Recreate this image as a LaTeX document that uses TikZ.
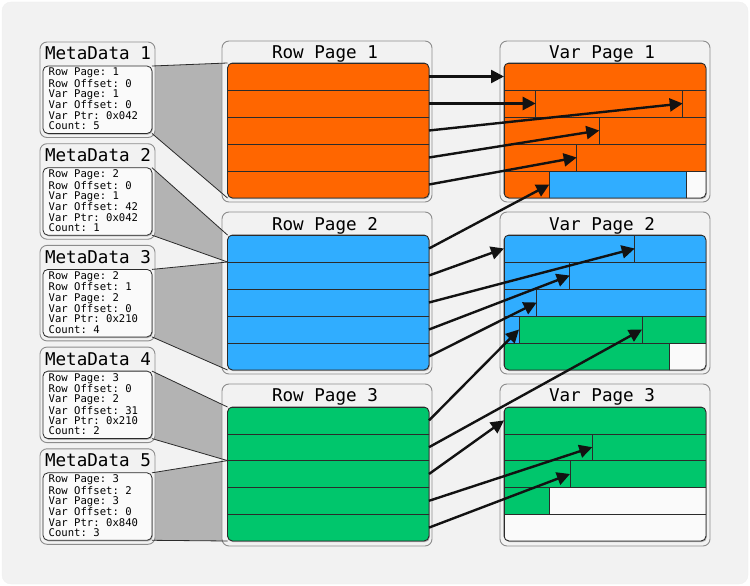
\documentclass[tikz,border=0pt]{standalone}
\usepackage{fontspec}
\setmonofont{DejaVu Sans Mono}
\usetikzlibrary{arrows.meta}
\pgfdeclarelayer{back}
\pgfdeclarelayer{fan}
\pgfsetlayers{back,fan,main}
\definecolor{cOrange}{HTML}{FF6600}
\definecolor{cBlue}{HTML}{30ADFF}
\definecolor{cGreen}{HTML}{00C66C}
\definecolor{cWhite}{HTML}{FAFAFA}
\definecolor{cBg}{HTML}{F2F2F2}
\definecolor{cFan}{HTML}{B3B3B3}
\definecolor{cEdge}{HTML}{2B2B2B}
\tikzset{
  outerbox/.style={draw=black!45, fill=cBg, line width=0.9pt, rounded corners=7pt},
  panelframe/.style={draw=cEdge, line width=0.9pt, rounded corners=5pt},
  panelshadow/.style={fill=black!30, rounded corners=5pt},
  vcell/.style={draw=cEdge, line width=0.6pt, inner sep=0pt, outer sep=0pt, anchor=north west},
  pagetitle/.style={font=\ttfamily\fontsize{17.6}{20}\selectfont, anchor=base, inner sep=0pt},
  mdtext/.style={font=\ttfamily\fontsize{10.6}{10.33}\selectfont, align=left, anchor=north west, inner sep=0pt},
  mdpanel/.style={draw=cEdge, fill=cWhite, line width=0.8pt, rounded corners=5pt, minimum width=109pt, minimum height=67.5pt, anchor=north west, inner sep=0pt, outer sep=0pt},
  fanedge/.style={draw=cEdge, line width=0.8pt},
  ptr/.style={draw=black!93, line width=2.4pt, -{Triangle[length=13pt,width=13pt]}},
}
\newcommand\VCell[6]{\node[vcell, fill=#6, minimum width={(#3-#2)*1pt}, minimum height=#5pt] (#1) at (#2,#4) {};}
\newcommand\MDbox[3]{%
\begin{scope}[shift={(0,#2)}]
\draw[outerbox] (40,0) rectangle (155,95.5);
\node[pagetitle] (mdt#1) at (98,18) {MetaData #1};
\fill[panelshadow] (43.8,25) rectangle (152.8,92.6);
\node[mdpanel] (md#1) at (43,24) {};
\node[mdtext] (mdx#1) at (48.5,26) {#3};
\end{scope}}
\begin{document}
\begin{tikzpicture}[x=1pt,y=-1pt]
\useasboundingbox (0,0) rectangle (750,586);
\begin{pgfonlayer}{back}
\fill[cBg, draw=black!6, rounded corners=9pt] (2,2) rectangle (748,584);
\end{pgfonlayer}

% ---------- MetaData boxes ----------
\MDbox{1}{42}{Row Page: 1\\Row Offset: 0\\Var Page: 1\\Var Offset: 0\\Var Ptr: 0x042\\Count: 5}
\MDbox{2}{143.7}{Row Page: 2\\Row Offset: 0\\Var Page: 1\\Var Offset: 42\\Var Ptr: 0x042\\Count: 1}
\MDbox{3}{245.4}{Row Page: 2\\Row Offset: 1\\Var Page: 2\\Var Offset: 0\\Var Ptr: 0x210\\Count: 4}
\MDbox{4}{347.1}{Row Page: 3\\Row Offset: 0\\Var Page: 2\\Var Offset: 31\\Var Ptr: 0x210\\Count: 2}
\MDbox{5}{448.8}{Row Page: 3\\Row Offset: 2\\Var Page: 3\\Var Offset: 0\\Var Ptr: 0x840\\Count: 3}

% ---------- Row pages ----------
\draw[outerbox] (222,41) rectangle (432,202);
\node[pagetitle] (rpt1) at (325,58.3) {Row Page 1};
\fill[panelshadow] (228.3,64) rectangle (429.8,199.2);
\begin{scope}
\clip[rounded corners=5pt] (227.5,63) rectangle (429,198);
\foreach \i in {0,...,4} {\node[vcell, fill=cOrange, minimum width=201.5pt, minimum height=27pt] (R1-\i) at (227.5,{63+27*\i}) {};}
\end{scope}
\draw[panelframe] (227.5,63) rectangle (429,198);

\draw[outerbox] (222,212) rectangle (432,374);
\node[pagetitle] (rpt2) at (325,230) {Row Page 2};
\fill[panelshadow] (228.3,236) rectangle (429.8,371.2);
\begin{scope}
\clip[rounded corners=5pt] (227.5,235) rectangle (429,370);
\foreach \i in {0,...,4} {\node[vcell, fill=cBlue, minimum width=201.5pt, minimum height=27pt] (R2-\i) at (227.5,{235+27*\i}) {};}
\end{scope}
\draw[panelframe] (227.5,235) rectangle (429,370);

\draw[outerbox] (222,384) rectangle (432,546);
\node[pagetitle] (rpt3) at (325,401.7) {Row Page 3};
\fill[panelshadow] (228.3,408) rectangle (429.8,542.2);
\begin{scope}
\clip[rounded corners=5pt] (227.5,407) rectangle (429,541);
\foreach \i in {0,...,4} {\node[vcell, fill=cGreen, minimum width=201.5pt, minimum height=26.8pt] (R3-\i) at (227.5,{407+26.8*\i}) {};}
\end{scope}
\draw[panelframe] (227.5,407) rectangle (429,541);

% ---------- Var pages ----------
\draw[outerbox] (500,41) rectangle (710,202);
\node[pagetitle] (vpt1) at (602,58.3) {Var Page 1};
\fill[panelshadow] (504.8,64) rectangle (706.8,199.2);
\begin{scope}
\clip[rounded corners=5pt] (504,63) rectangle (706,198);
\VCell{V1-0a}{504}{706}{63}{27}{cOrange}
\VCell{V1-1a}{504}{535.7}{90}{27}{cOrange}
\VCell{V1-1b}{535.7}{682.7}{90}{27}{cOrange}
\VCell{V1-1c}{682.7}{706}{90}{27}{cOrange}
\VCell{V1-2a}{504}{599.3}{117}{27}{cOrange}
\VCell{V1-2b}{599.3}{706}{117}{27}{cOrange}
\VCell{V1-3a}{504}{576.7}{144}{27}{cOrange}
\VCell{V1-3b}{576.7}{706}{144}{27}{cOrange}
\VCell{V1-4a}{504}{549.3}{171}{27}{cOrange}
\VCell{V1-4b}{549.3}{686}{171}{27}{cBlue}
\VCell{V1-4c}{686}{706}{171}{27}{cWhite}
\end{scope}
\draw[panelframe] (504,63) rectangle (706,198);

\draw[outerbox] (500,212) rectangle (710,374);
\node[pagetitle] (vpt2) at (602,230.7) {Var Page 2};
\fill[panelshadow] (504.8,236) rectangle (706.8,371.2);
\begin{scope}
\clip[rounded corners=5pt] (504,235) rectangle (706,370);
\VCell{V2-0a}{504}{634.7}{235}{27}{cBlue}
\VCell{V2-0b}{634.7}{706}{235}{27}{cBlue}
\VCell{V2-1a}{504}{569.7}{262}{27}{cBlue}
\VCell{V2-1b}{569.7}{706}{262}{27}{cBlue}
\VCell{V2-2a}{504}{536.7}{289}{27}{cBlue}
\VCell{V2-2b}{536.7}{706}{289}{27}{cBlue}
\VCell{V2-3a}{504}{519}{316}{27}{cBlue}
\VCell{V2-3b}{519}{642}{316}{27}{cGreen}
\VCell{V2-3c}{642}{706}{316}{27}{cGreen}
\VCell{V2-4a}{504}{669.7}{343}{27}{cGreen}
\VCell{V2-4b}{669.7}{706}{343}{27}{cWhite}
\end{scope}
\draw[panelframe] (504,235) rectangle (706,370);

\draw[outerbox] (500,384) rectangle (710,546);
\node[pagetitle] (vpt3) at (602,401.7) {Var Page 3};
\fill[panelshadow] (504.8,408) rectangle (706.8,542.2);
\begin{scope}
\clip[rounded corners=5pt] (504,407) rectangle (706,541);
\VCell{V3-0a}{504}{706}{407}{26.8}{cGreen}
\VCell{V3-1a}{504}{592.3}{433.8}{26.8}{cGreen}
\VCell{V3-1b}{592.3}{706}{433.8}{26.8}{cGreen}
\VCell{V3-2a}{504}{570}{460.6}{26.8}{cGreen}
\VCell{V3-2b}{570}{706}{460.6}{26.8}{cGreen}
\VCell{V3-3a}{504}{549}{487.4}{26.8}{cGreen}
\VCell{V3-3b}{549}{706}{487.4}{26.8}{cWhite}
\VCell{V3-4a}{504}{706}{514.2}{26.8}{cWhite}
\end{scope}
\draw[panelframe] (504,407) rectangle (706,541);

% ---------- fans from metadata to rows ----------
\begin{pgfonlayer}{fan}
\fill[cFan] (md1.north east) -- (R1-0.north west) -- (R1-4.south west) -- (md1.south east) -- cycle;
\fill[cFan] (md2.north east) -- (R2-0.north west) -- (R2-0.south west) -- (md2.south east) -- cycle;
\fill[cFan] (md3.north east) -- (R2-1.north west) -- (R2-4.south west) -- (md3.south east) -- cycle;
\fill[cFan] (md4.north east) -- (R3-0.north west) -- (R3-1.south west) -- (md4.south east) -- cycle;
\fill[cFan] (md5.north east) -- (R3-2.north west) -- (R3-4.south west) -- (md5.south east) -- cycle;
\end{pgfonlayer}
\draw[fanedge] (md1.north east) -- (R1-0.north west);
\draw[fanedge] (md1.south east) -- (R1-4.south west);
\draw[fanedge] (md2.north east) -- (R2-0.north west);
\draw[fanedge] (md2.south east) -- (R2-0.south west);
\draw[fanedge] (md3.north east) -- (R2-1.north west);
\draw[fanedge] (md3.south east) -- (R2-4.south west);
\draw[fanedge] (md4.north east) -- (R3-0.north west);
\draw[fanedge] (md4.south east) -- (R3-1.south west);
\draw[fanedge] (md5.north east) -- (R3-2.north west);
\draw[fanedge] (md5.south east) -- (R3-4.south west);

% ---------- pointers ----------
\draw[ptr] (R1-0.east) -- (V1-0a.west);
\draw[ptr] (R1-1.east) -- (V1-1b.west);
\draw[ptr] (R1-2.east) -- (V1-1c.west);
\draw[ptr] (R1-3.east) -- (V1-2b.west);
\draw[ptr] (R1-4.east) -- (V1-3b.west);
\draw[ptr] (R2-0.east) -- (V1-4b.west);
\draw[ptr] (R2-1.east) -- (V2-0a.west);
\draw[ptr] (R2-2.east) -- (V2-0b.west);
\draw[ptr] (R2-3.east) -- (V2-1b.west);
\draw[ptr] (R2-4.east) -- (V2-2b.west);
\draw[ptr] (R3-0.east) -- (V2-3b.west);
\draw[ptr] (R3-1.east) -- (V2-3c.west);
\draw[ptr] (R3-2.east) -- (V3-0a.west);
\draw[ptr] (R3-3.east) -- (V3-1b.west);
\draw[ptr] (R3-4.east) -- (V3-2b.west);
\end{tikzpicture}
\end{document}
